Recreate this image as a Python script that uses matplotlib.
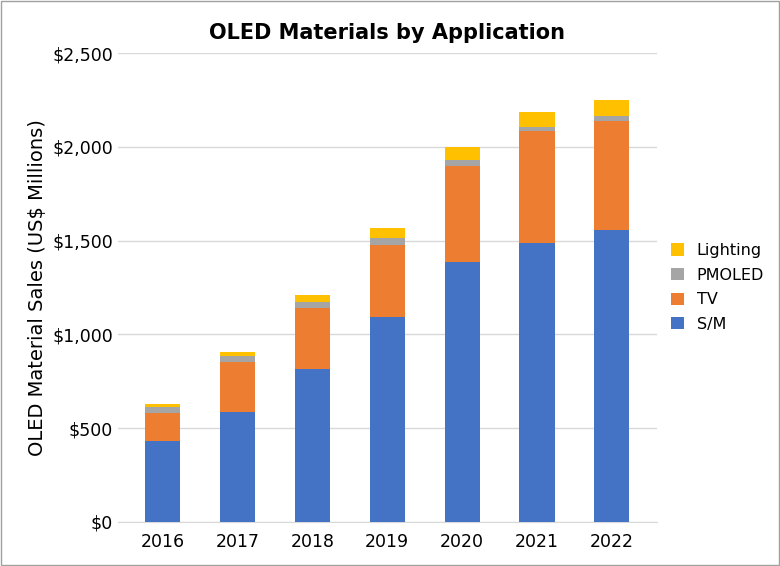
import matplotlib.pyplot as plt
from matplotlib.ticker import FuncFormatter

years = ["2016", "2017", "2018", "2019", "2020", "2021", "2022"]
sm = [432, 586, 816, 1093, 1386, 1487, 1556]
tv = [149, 267, 325, 384, 512, 597, 582]
pmoled = [32, 32, 32, 37, 32, 21, 26]
lighting = [16, 21, 37, 53, 69, 80, 85]

fig = plt.figure(figsize=(7.8, 5.66), dpi=100)
ax = fig.add_axes([0.151, 0.078, 0.691, 0.828])

b1 = [a for a in sm]
b2 = [a + b for a, b in zip(b1, tv)]
b3 = [a + b for a, b in zip(b2, pmoled)]

w = 0.47
h_sm = ax.bar(years, sm, w, color="#4472C4", label="S/M", zorder=3)
h_tv = ax.bar(years, tv, w, bottom=b1, color="#ED7D31", label="TV", zorder=3)
h_pm = ax.bar(years, pmoled, w, bottom=b2, color="#A5A5A5", label="PMOLED", zorder=3)
h_li = ax.bar(years, lighting, w, bottom=b3, color="#FFC000", label="Lighting", zorder=3)

ax.set_ylim(0, 2500)
ax.set_yticks(range(0, 2501, 500))
ax.yaxis.set_major_formatter(FuncFormatter(lambda v, p: f"${v:,.0f}"))
ax.grid(axis="y", color="#D9D9D9", linewidth=1, zorder=0)
for s in ["top", "right", "left"]:
    ax.spines[s].set_visible(False)
ax.spines["bottom"].set_color("#D9D9D9")
ax.tick_params(axis="both", length=0, labelsize=12.5, colors="#000000")
ax.tick_params(axis="x", pad=8)
ax.set_xlim(-0.6, 6.6)
ax.set_ylabel("OLED Material Sales (US$ Millions)", fontsize=14)
ax.set_title("OLED Materials by Application", fontsize=15, fontweight="bold", pad=10)

ax.legend([h_li, h_pm, h_tv, h_sm], ["Lighting", "PMOLED", "TV", "S/M"],
          loc="center left", bbox_to_anchor=(1.0, 0.5), frameon=False,
          fontsize=11.5, handlelength=0.8, handleheight=0.8, labelspacing=0.6)

fig.patches.append(plt.Rectangle((0.001, 0.001), 0.998, 0.998, transform=fig.transFigure,
                                 fill=False, edgecolor="#A0A0A0", linewidth=1))
fig.savefig("out.png", dpi=100)
